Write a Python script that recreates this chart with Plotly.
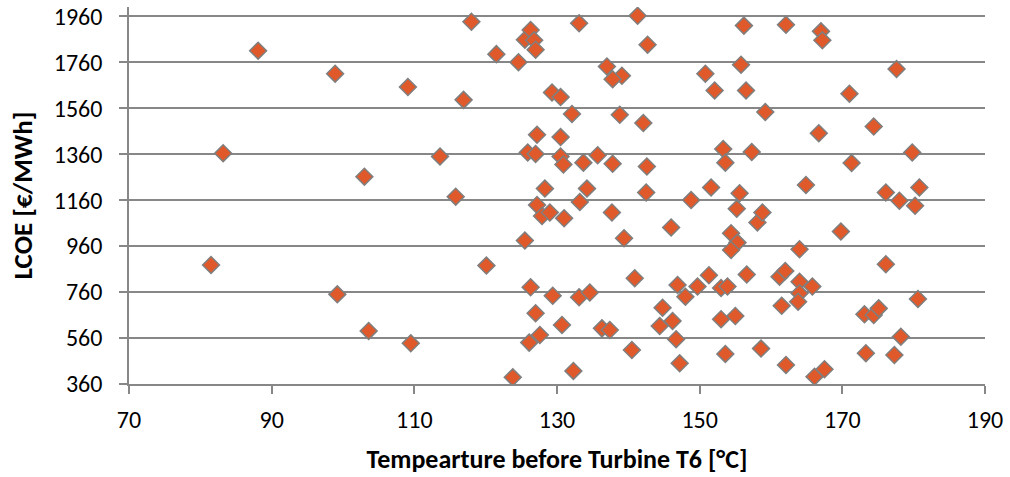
import plotly.graph_objects as go

# Temperature before turbine T6 [°C]
temperature = [
    81.5, 83.2, 88.1, 98.9, 99.2, 103.0, 103.6, 109.1, 109.5, 113.6,
    115.8, 116.9, 118.0, 120.1, 121.5, 123.8, 124.6, 125.5, 126.3, 126.8,
    127.0, 125.5, 125.9, 127.0, 127.2, 127.2, 127.9, 129.0, 131.0, 128.3,
    126.3, 127.0, 127.6, 126.1, 129.3, 130.5, 132.1, 130.5, 130.5, 130.9,
    133.7, 135.7, 137.8, 134.2, 133.2, 137.7, 129.4, 133.1, 134.6, 130.7,
    136.3, 137.4, 132.3, 133.1, 141.3, 137.0, 139.1, 137.8, 138.8, 139.4,
    140.9, 140.5, 142.1, 142.6, 142.5, 142.7, 144.8, 144.4, 146.2, 146.0,
    146.9, 148.0, 149.7, 151.3, 146.7, 147.2, 148.8, 150.8, 151.6, 152.1,
    153.3, 153.6, 153.0, 153.9, 153.0, 155.0, 153.6, 154.4, 155.3, 154.4,
    155.2, 155.6, 155.8, 156.2, 156.5, 156.6, 157.3, 158.1, 158.8, 159.2,
    158.6, 161.2, 162.0, 161.5, 162.1, 162.1, 164.0, 165.8, 164.0, 163.8,
    164.0, 164.9, 166.1, 167.5, 166.7, 167.0, 167.2, 169.8, 171.0, 171.3,
    173.1, 174.4, 175.1, 173.3, 174.4, 176.1, 176.1, 177.6, 177.3, 178.0,
    178.2, 179.8, 180.2, 180.6, 180.8,
]

# LCOE [€/MWh]
lcoe = [
    878, 1364, 1810, 1710, 750, 1262, 591, 1652, 537, 1350,
    1175, 1596, 1936, 875, 1795, 389, 1760, 1858, 1900, 1855,
    1814, 984, 1367, 1361, 1444, 1139, 1091, 1106, 1081, 1210,
    781, 668, 573, 540, 1628, 1608, 1535, 1434, 1350, 1315,
    1323, 1355, 1318, 1210, 1152, 1106, 744, 737, 758, 617,
    602, 595, 417, 1929, 1962, 1741, 1701, 1686, 1531, 994,
    820, 508, 1495, 1306, 1193, 1836, 692, 612, 634, 1041,
    791, 740, 784, 833, 555, 450, 1160, 1710, 1215, 1637,
    1382, 1323, 778, 784, 642, 656, 491, 1016, 975, 943,
    1122, 1190, 1749, 1919, 1637, 836, 1369, 1063, 1106, 1543,
    514, 827, 852, 700, 1923, 443, 805, 784, 755, 718,
    946, 1226, 392, 424, 1451, 1894, 1855, 1023, 1623, 1321,
    663, 660, 689, 494, 1480, 881, 1193, 1730, 486, 1157,
    566, 1367, 1135, 730, 1215,
]

x_ticks = [70, 90, 110, 130, 150, 170, 190]
y_ticks = [360, 560, 760, 960, 1160, 1360, 1560, 1760, 1960]

x_title = "Tempearture before Turbine T6 [°C]"
y_title = "LCOE [€/MWh]"

FONT = "Carlito, Calibri, Lato, sans-serif"
GRID = "#878787"

fig = go.Figure(
    go.Scatter(
        x=temperature,
        y=lcoe,
        mode="markers",
        marker=dict(
            symbol="diamond",
            size=13,
            color="#E0592A",
            line=dict(color="#7F7F7F", width=1.5),
        ),
        hoverinfo="x+y",
    )
)

fig.update_layout(
    width=1010,
    height=477,
    margin=dict(l=129, r=25, t=7, b=93, autoexpand=False),
    paper_bgcolor="white",
    plot_bgcolor="white",
    font=dict(family=FONT, size=24, color="#000000"),
    showlegend=False,
)

fig.update_xaxes(
    range=[70, 190],
    tickvals=x_ticks,
    ticktext=[str(v) for v in x_ticks],
    showgrid=False,
    zeroline=False,
    showline=True,
    linecolor=GRID,
    linewidth=1.5,
    ticks="outside",
    ticklen=8,
    tickwidth=1.5,
    tickcolor=GRID,
    ticklabelstandoff=5,
    automargin=False,
    title=dict(text=f"<b>{x_title}</b>", font=dict(family=FONT, size=26), standoff=17),
)

fig.update_yaxes(
    range=[360, 2000],
    tickvals=y_ticks,
    ticktext=[str(v) for v in y_ticks],
    showgrid=True,
    gridcolor=GRID,
    gridwidth=1.5,
    zeroline=False,
    showline=True,
    linecolor=GRID,
    linewidth=1.5,
    ticks="outside",
    ticklen=8,
    tickwidth=1.5,
    tickcolor=GRID,
    ticklabelstandoff=12,
    automargin=False,
    title=dict(text=f"<b>{y_title}</b>", font=dict(family=FONT, size=27), standoff=13),
)

fig.write_html(
    "out.html",
    config={"displayModeBar": False},
    post_script="document.body.style.margin='0';",
)
